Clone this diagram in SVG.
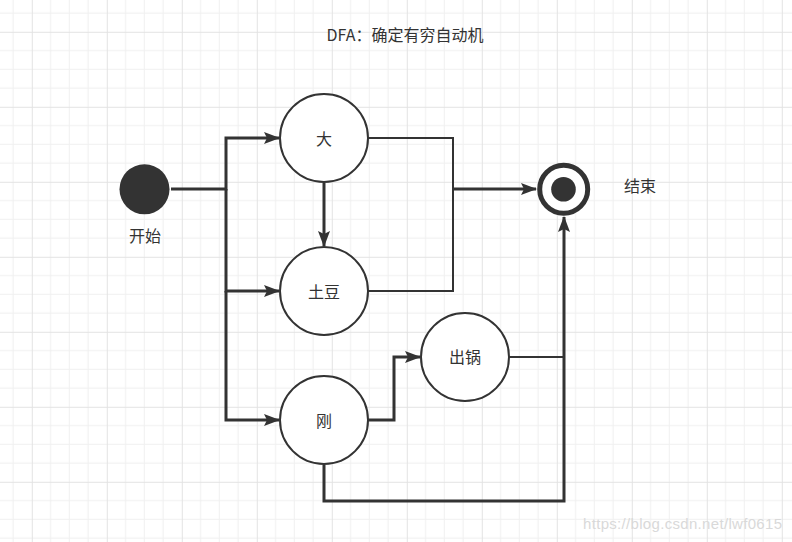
<svg xmlns="http://www.w3.org/2000/svg" width="792" height="542" viewBox="0 0 792 542">
<style>
.node{fill:#fff;stroke:#333;stroke-width:2}
.lbl{font-family:"Noto Sans CJK SC","Liberation Sans",sans-serif;font-size:16px;fill:#333;text-anchor:middle}
.e3{fill:none;stroke:#333;stroke-width:3}
.e2{fill:none;stroke:#333;stroke-width:2}
</style>
<defs>
<pattern id="grid" patternUnits="userSpaceOnUse" x="31.8" y="31.8" width="75" height="75">
<rect width="75" height="75" fill="#fff"/>
<path d="M18.75 0V75M37.5 0V75M56.25 0V75M0 18.75H75M0 37.5H75M0 56.25H75" stroke="#f0f0f0" stroke-width="1"/>
<path d="M0.5 0V75M0 0.5H75" stroke="#e3e3e3" stroke-width="1"/>
</pattern>
<marker id="arr" viewBox="0 0 16 12" refX="15" refY="6" markerWidth="16" markerHeight="12" markerUnits="userSpaceOnUse" orient="auto">
<path d="M0 0L16 6L0 12L3 6Z" fill="#333"/>
</marker>
</defs>
<rect width="792" height="542" fill="url(#grid)"/>
<text class="lbl" x="405" y="41">DFA：确定有穷自动机</text>
<g id="connectors">
<path class="e3" d="M171 189H226V138H279" marker-end="url(#arr)"/>
<path class="e3" d="M226 189V291H279" marker-end="url(#arr)"/>
<path class="e3" d="M226 291V420H279" marker-end="url(#arr)"/>
<path class="e3" d="M324 183V246" marker-end="url(#arr)"/>
<path class="e2" d="M368 138H453V189"/>
<path class="e2" d="M368 291H453V189"/>
<path class="e3" d="M453 189H536" marker-end="url(#arr)"/>
<path class="e3" d="M368 420H394V357H420" marker-end="url(#arr)"/>
<path class="e2" d="M509 357H564"/>
<path class="e3" d="M324 465V501H564V217" marker-end="url(#arr)"/>
</g>
<g id="start">
<circle cx="144.5" cy="189.3" r="25" fill="#333"/>
<text class="lbl" x="145" y="242">开始</text>
</g>
<g id="n-da">
<circle class="node" cx="324" cy="138" r="44"/>
<text class="lbl" x="324" y="145">大</text>
</g>
<g id="n-tudou">
<circle class="node" cx="324" cy="291" r="44"/>
<text class="lbl" x="324" y="298">土豆</text>
</g>
<g id="n-gang">
<circle class="node" cx="324" cy="420" r="44"/>
<text class="lbl" x="324" y="427">刚</text>
</g>
<g id="n-chuguo">
<circle class="node" cx="465" cy="357" r="44"/>
<text class="lbl" x="465" y="363">出锅</text>
</g>
<g id="end">
<circle cx="563.7" cy="189.3" r="24" fill="#fff" stroke="#333" stroke-width="5"/>
<circle cx="563.5" cy="189.3" r="12.3" fill="#333"/>
<text class="lbl" x="640" y="192">结束</text>
</g>
<text x="583" y="529" font-family="Liberation Sans,Arial,sans-serif" font-size="15" fill="#d9d9d9" textLength="199">https://blog.csdn.net/lwf0615</text>
</svg>
